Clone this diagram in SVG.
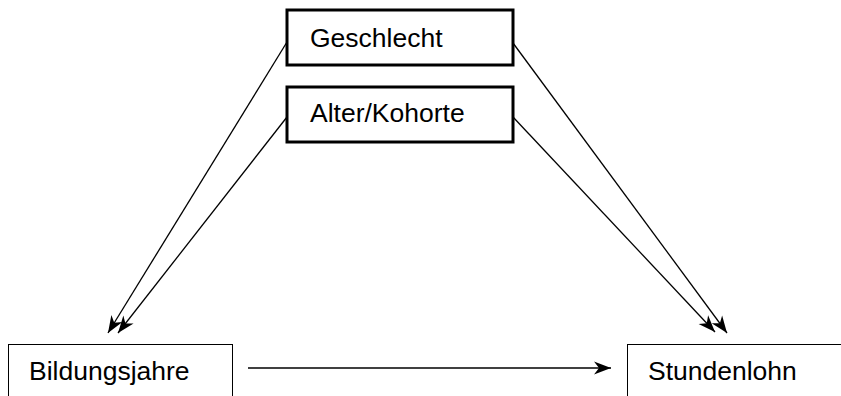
<svg xmlns="http://www.w3.org/2000/svg" width="841" height="396" viewBox="0 0 841 396">
<defs>
<style>
.thick{fill:#fff;stroke:#000;stroke-width:3}
.thin{fill:#fff;stroke:#000;stroke-width:1}
.lbl{font-family:"Liberation Sans",Arial,sans-serif;font-size:26.5px;fill:#000}
.edge{stroke:#000;stroke-width:1.3;fill:none;marker-end:url(#ah)}
</style>
<marker id="ah" markerUnits="userSpaceOnUse" markerWidth="20" markerHeight="16" viewBox="-18 -8 20 16" refX="0" refY="0" orient="auto">
<path d="M0,0 L-17,-6.5 L-12,0 L-17,6.5 Z" fill="#000"/>
</marker>
</defs>
<rect width="841" height="396" fill="#fff"/>
<g id="connectors">
<line class="edge" x1="287" y1="42" x2="108" y2="333"/>
<line class="edge" x1="287" y1="117" x2="118" y2="333"/>
<line class="edge" x1="513" y1="43" x2="727" y2="333"/>
<line class="edge" x1="513" y1="117" x2="715" y2="332"/>
<line class="edge" x1="248" y1="368" x2="611" y2="368"/>
</g>
<g id="geschlecht">
<rect class="thick" x="287" y="10" width="226" height="55"/>
<text class="lbl" x="310" y="47">Geschlecht</text>
</g>
<g id="alter">
<rect class="thick" x="287" y="87" width="226" height="55"/>
<text class="lbl" x="310" y="122">Alter/Kohorte</text>
</g>
<g id="bildungsjahre">
<rect class="thin" x="8.5" y="344.5" width="224" height="70"/>
<text class="lbl" x="29" y="380">Bildungsjahre</text>
</g>
<g id="stundenlohn">
<rect class="thin" x="627.5" y="344.5" width="230" height="70"/>
<text class="lbl" x="648" y="380">Stundenlohn</text>
</g>
</svg>
